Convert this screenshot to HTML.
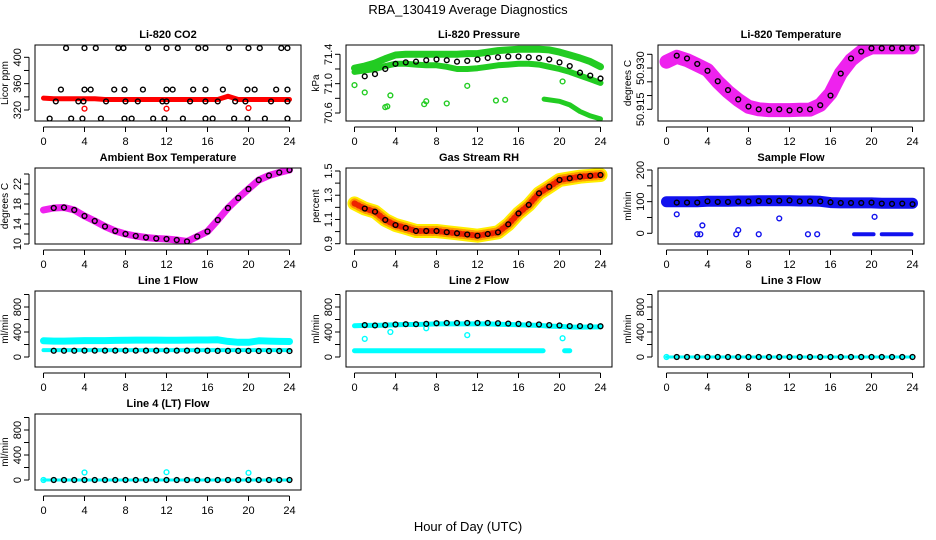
<!DOCTYPE html>
<html><head><meta charset="utf-8"><style>
html,body{margin:0;padding:0;background:#fff;}
svg{display:block;font-family:"Liberation Sans",sans-serif;}
</style></head><body>
<svg id="c" width="936" height="540" viewBox="0 0 936 540">
<text x="468" y="14" text-anchor="middle" font-size="13">RBA_130419  Average Diagnostics</text>
<text x="468" y="531" text-anchor="middle" font-size="13">Hour of Day (UTC)</text>
</svg>
<script>
// ---------- data ----------
const hours = [0,1,2,3,4,5,6,7,8,9,10,11,12,13,14,15,16,17,18,19,20,21,22,23,24];
// CO2
const co2Band = [338,337,337,337,337,337,336,336,336,336,336,336,336,336,336,336,336,336,341,336,336,336,336,336,336];
const co2TopT = [2.2,4,5.1,7.3,7.8,10.2,12,13.1,15.1,15.8,18.1,20,21.1,23.2,23.8];
const co2HiT = [1.7,4,4.6,6.9,7.9,9.7,12,12.6,14.6,15.8,17.5,19.9,20.6,22.7,23.8];
const co2MidT = [1.2,3.4,3.9,6.1,8,9.2,11.6,12,14.3,15.8,17,18.7,19.7,22.2,23.8];
const co2LowT = [0.6,2.7,3.8,5.6,7.9,8.6,10.7,11.8,13.6,15.8,16.5,18.6,19.9,21.6,23.8];
const co2Levels = [414,351,333,307];
const co2OutT = [4,12,20];
const co2OutV = [322,322,323];
// Pressure
const presTop = [71.21,71.24,71.28,71.34,71.39,71.40,71.40,71.40,71.40,71.40,71.40,71.41,71.41,71.43,71.45,71.46,71.47,71.47,71.47,71.46,71.43,71.39,71.35,71.30,71.23];
const presBot = [71.16,71.18,71.20,71.24,71.27,71.27,71.26,71.25,71.25,71.23,71.20,71.20,71.21,71.23,71.25,71.26,71.27,71.27,71.26,71.23,71.20,71.16,71.11,71.06,71.01];
const presMean = [71.07,71.10,71.13,71.20,71.27,71.29,71.30,71.32,71.33,71.32,71.30,71.31,71.33,71.35,71.36,71.37,71.37,71.36,71.35,71.33,71.29,71.24,71.15,71.11,71.07];
const presLowT = [18.5,20,21,22,23,24];
const presLowV = [70.79,70.76,70.71,70.62,70.56,70.52];
const presOutT = [0,1,3,3.2,3.5,6.8,7,9,11,13.8,14.7,20.3];
const presOutV = [70.98,70.88,70.68,70.69,70.84,70.72,70.76,70.73,70.97,70.77,70.78,71.03];
// Li-820 temperature
const tempBand = [50.9323,50.9341,50.9329,50.9311,50.9293,50.9250,50.9214,50.9184,50.9159,50.9150,50.9147,50.9147,50.9147,50.9148,50.9149,50.9166,50.9208,50.9281,50.9329,50.9359,50.9375,50.9375,50.9375,50.9375,50.9375];
const tempMean = [50.9330,50.9345,50.9335,50.9315,50.9290,50.9252,50.9220,50.9186,50.9160,50.9150,50.9148,50.9150,50.9146,50.9148,50.9150,50.9165,50.9200,50.9280,50.9335,50.9360,50.9372,50.9372,50.9372,50.9372,50.9372];
// Ambient box temperature
const ambBand = [16.8,17.2,17.3,16.8,15.6,14.6,13.5,12.6,12.0,11.6,11.3,11.1,11.0,10.8,10.5,11.5,12.5,14.8,17.2,19.2,21.0,22.8,23.7,24.3,24.8];
// Gas stream RH
const rhBand = [1.233,1.19,1.164,1.096,1.054,1.03,1.005,1.005,1.005,0.995,0.986,0.976,0.966,0.98,0.994,1.06,1.15,1.22,1.316,1.37,1.426,1.44,1.453,1.46,1.467];
// Sample flow
const sfBand = [100,100,100,100,101,101,101,102,102,103,103,103,103,102,102,101,97,96,96,96,96,95,95,95,95];
const sfMean = [97,97,97,97,101,99,99,100,101,102,102,103,104,101,101,101,98,96,96,96,97,94,93,94,92];
const sfZeroStart = [18.3,21.0];
const sfZeroEnd = [20.2,23.9];
const sfOutT = [1,3,3.3,3.5,6.8,7,9,11,13.8,14.7,20.3];
const sfOutV = [60,-3,-3,25,-3,10,-3,47,-3,-3,52];
// Line 1
const l1Cyan = [260,255,255,258,262,262,262,265,268,270,270,270,268,268,270,272,272,275,250,235,235,260,255,250,248];
const l1Mean = [105,100,100,100,102,102,102,102,102,102,102,102,102,102,102,102,100,98,98,98,98,96,96,96,95];
// Line 2
const l2Cyan = [500,505,505,510,515,520,520,525,530,530,530,530,530,530,525,520,515,510,505,495,490,480,478,480,482];
const l2Mean = [515,510,505,510,520,525,525,530,540,545,545,545,545,545,540,535,530,525,520,510,505,495,495,492,492];
const l2LowStart = [0,20.5];
const l2LowEnd = [18.4,21.0];
const l2LowV = [100,100];
const l2OutT = [1,3.5,7,11,20.3];
const l2OutV = [290,400,460,350,300];
// Line 3 / Line 4
const l3Mean = [0,0,0,0,0,0,0,0,0,0,0,0,0,0,0,0,0,0,0,0,0,0,0,0,0];
const l4OutT = [4,12,20];
const l4OutV = [120,125,115];

// ---------- drawing ----------
const svg = document.getElementById('c');
const NS = 'http://www.w3.org/2000/svg';
function mk(tag, attrs, parent){ const e=document.createElementNS(NS,tag); for(const k in attrs) e.setAttribute(k,attrs[k]); (parent||svg).appendChild(e); return e; }
const colLeft=[35,346,658];
function makePanel(col,row,title,ylab,v1,y1,v2,y2,ticks,labels,id){
  const L=colLeft[col], T=45+123*row, W=266, H=76;
  const sx=h=>L+8.5+h*10.25;
  const sy=v=>y1+(v-v1)*(y2-y1)/(v2-v1);
  const g=mk('g',{});
  
  
  const cp=mk('clipPath',{id:'cp'+id},g); mk('rect',{x:L,y:T,width:W,height:H},cp);
  const plot=mk('g',{'clip-path':'url(#cp'+id+')'},g);
  
  
  const box=mk('rect',{x:L,y:T,width:W,height:H,fill:'none',stroke:'#000','stroke-width':1},g);
  
  
  const t=mk('text',{x:L+W/2,y:T-7,'text-anchor':'middle','font-size':11,'font-weight':'bold'},g); t.textContent=title;
  
  
  const xa=mk('g',{},g);
  
  
  mk('line',{x1:sx(0),x2:sx(24),y1:T+H+6,y2:T+H+6,stroke:'#000'},xa);
  [0,4,8,12,16,20,24].forEach(h=>{
    mk('line',{x1:sx(h),x2:sx(h),y1:T+H+6,y2:T+H+11,stroke:'#000'},xa);
    const tx=mk('text',{x:sx(h),y:T+H+24,'text-anchor':'middle','font-size':11},xa); tx.textContent=h;
  });
  const ya=mk('g',{},g);
  
  
  mk('line',{x1:L-6,x2:L-6,y1:sy(ticks[0]),y2:sy(ticks[ticks.length-1]),stroke:'#000'},ya);
  ticks.forEach(v=>mk('line',{x1:L-11,x2:L-6,y1:sy(v),y2:sy(v),stroke:'#000'},ya));
  labels.forEach(v=>{ const yy=sy(Number(v)); const tx=mk('text',{x:L-14,y:yy,'text-anchor':'middle','font-size':11,transform:'rotate(-90 '+(L-14)+' '+yy+')'},ya); tx.textContent=String(v); });
  const yl=mk('text',{x:L-27,y:T+H/2,'text-anchor':'middle','font-size':10,transform:'rotate(-90 '+(L-27)+' '+(T+H/2)+')'},g); yl.textContent=ylab;
  
  
  return {plot,sx,sy,id};
}
function band(p,ts,vals,color,w,dash,name){
  const pts=ts.map((t,i)=>p.sx(t).toFixed(1)+','+p.sy(vals[i]).toFixed(1)).join(' ');
  const a={points:pts,fill:'none',stroke:color,'stroke-width':w,'stroke-linejoin':'round','stroke-linecap':'round'};
  if(dash) a['stroke-dasharray']=dash;
  const e=mk('polyline',a,p.plot);
  
  
}
function pts(p,ts,vals,color,name,r){
  ts.forEach((t,i)=>{
    const c=mk('circle',{cx:p.sx(t),cy:p.sy(vals[i]),r:r||2.4,fill:'none',stroke:color,'stroke-width':1.4},p.plot);
    
    
  });
}
function seg(p,s,e,v,color,w,name){
  s.forEach((a,i)=>{
    const l=mk('line',{x1:p.sx(a),x2:p.sx(e[i]),y1:p.sy(v[i]),y2:p.sy(v[i]),stroke:color,'stroke-width':w,'stroke-linecap':'round'},p.plot);
    
    
  });
}
const filled=(n,v)=>Array(n).fill(v);

let p=makePanel(0,0,'Li-820 CO2','Licor ppm',320,110,400,57.3,[320,340,360,380,400],[320,360,400],'co2');
band(p,hours,co2Band,'#f00',5,null,'co2-series');
[co2TopT,co2HiT,co2MidT,co2LowT].forEach((ts,k)=>pts(p,ts,filled(ts.length,co2Levels[k]),'#000','co2-mean-point'));
pts(p,co2OutT,co2OutV,'#f00','co2-outlier');

p=makePanel(1,0,'Li-820 Pressure','kPa',71.4,54.3,70.6,113,[70.6,70.8,71.0,71.2,71.4],['70.6','71.0','71.4'],'pressure');
band(p,hours,presTop,'#22cc22',7,null,'pressure-upper-band');
band(p,hours,presBot,'#22cc22',6,null,'pressure-lower-band');
band(p,presLowT,presLowV,'#22cc22',5,null,'pressure-low-band');
pts(p,presOutT,presOutV,'#22cc22','pressure-outlier');
pts(p,hours.slice(1),presMean.slice(1),'#000','pressure-mean-point');

p=makePanel(2,0,'Li-820 Temperature','degrees C',50.915,109.3,50.935,54.3,[50.915,50.92,50.925,50.93,50.935],['50.915','50.930'],'li820-temp');
band(p,hours,tempBand,'#ee22ee',14,null,'li820-temp-band');
pts(p,hours.slice(1),tempMean.slice(1),'#000','li820-temp-mean-point');

p=makePanel(0,1,'Ambient Box Temperature','degrees C',10,244,22,184,[10,12,14,16,18,20,22,24],[10,14,18,22],'ambient');
band(p,hours,ambBand,'#ee22ee',7,null,'ambient-band');
pts(p,hours.slice(1),ambBand.slice(1),'#000','ambient-mean-point');

p=makePanel(1,1,'Gas Stream RH','percent',0.9,243.7,1.5,171,[0.9,1.0,1.1,1.2,1.3,1.4,1.5],['0.9','1.1','1.3','1.5'],'rh');
band(p,hours,rhBand,'#ffee00',14,null,'rh-band-yellow');
band(p,hours,rhBand,'#ff9900',10,'2 2','rh-band-orange');
band(p,hours,rhBand,'#ee2200',6,'1 3','rh-band-red');
pts(p,hours.slice(1),rhBand.slice(1),'#000','rh-mean-point');

p=makePanel(2,1,'Sample Flow','ml/min',0,233.3,200,170,[0,50,100,150,200],[0,100,200],'sample-flow');
band(p,hours,sfBand,'#1111ee',11,null,'sample-flow-band');
seg(p,sfZeroStart,sfZeroEnd,[-3,-3],'#1111ee',4,'sample-flow-zero');
pts(p,sfOutT,sfOutV,'#1111ee','sample-flow-outlier');
pts(p,hours.slice(1),sfMean.slice(1),'#000','sample-flow-mean-point');

p=makePanel(0,2,'Line 1 Flow','ml/min',0,357,800,307,[0,200,400,600,800,1000],[0,400,800],'line1');
band(p,hours,l1Cyan,'#00ffff',7,null,'line1-cyan-band');
band(p,hours,filled(25,110),'#00ffff',4,null,'line1-cyan-low');
pts(p,hours.slice(1),l1Mean.slice(1),'#000','line1-mean-point');

p=makePanel(1,2,'Line 2 Flow','ml/min',0,357,800,307,[0,200,400,600,800,1000],[0,400,800],'line2');
band(p,hours,l2Cyan,'#00ffff',5,null,'line2-cyan-band');
seg(p,l2LowStart,l2LowEnd,l2LowV,'#00ffff',5,'line2-cyan-low');
pts(p,l2OutT,l2OutV,'#00ffff','line2-outlier');
pts(p,hours.slice(1),l2Mean.slice(1),'#000','line2-mean-point');

p=makePanel(2,2,'Line 3 Flow','ml/min',0,357,800,307,[0,200,400,600,800,1000],[0,400,800],'line3');
band(p,hours,l3Mean,'#00ffff',3,null,'line3-cyan-band');
pts(p,hours.slice(1),l3Mean.slice(1),'#000','line3-mean-point');
pts(p,[0],[0],'#00ffff','line3-first-point');

p=makePanel(0,3,'Line 4 (LT) Flow','ml/min',0,357+123,800,307+123,[0,200,400,600,800,1000],[0,400,800],'line4');
band(p,hours,l3Mean,'#00ffff',3,null,'line4-cyan-band');
pts(p,hours.slice(1),l3Mean.slice(1),'#000','line4-mean-point');
pts(p,l4OutT,l4OutV,'#00ffff','line4-outlier');
pts(p,[0],[0],'#00ffff','line4-first-point');
</script>
</body></html>
